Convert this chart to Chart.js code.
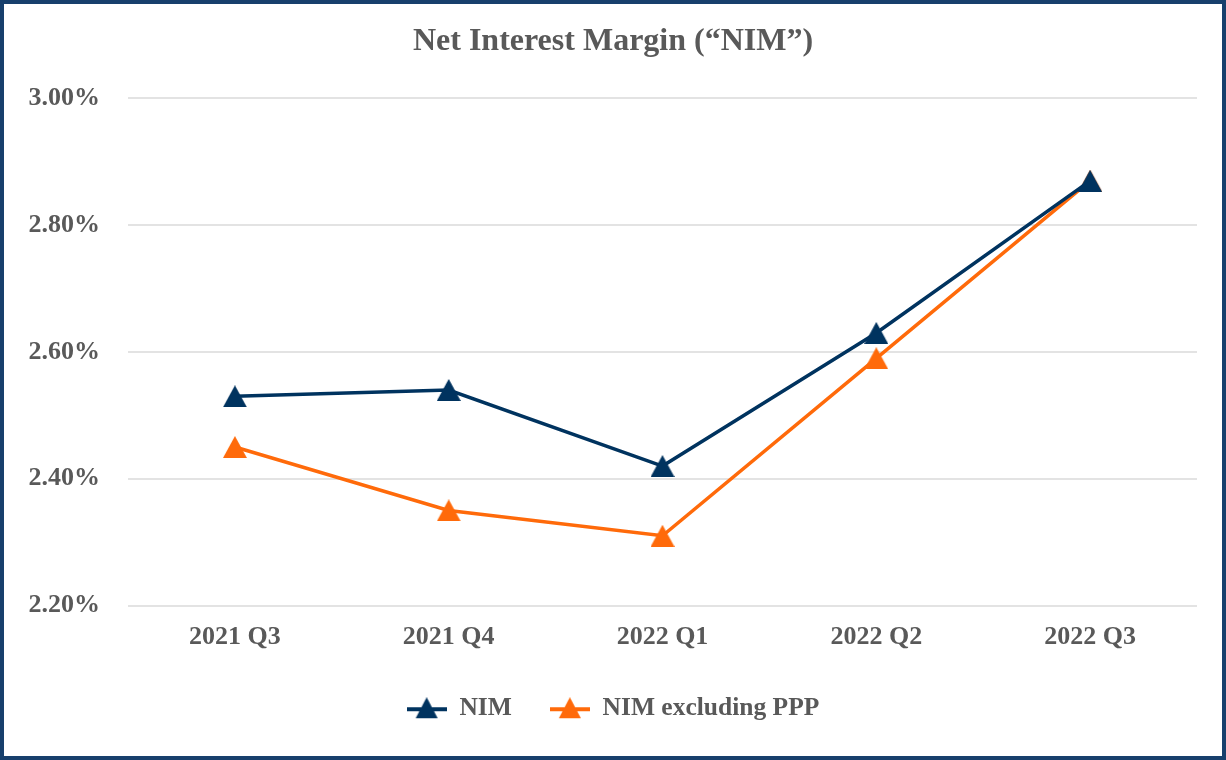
<!DOCTYPE html>
<html>
<head>
<meta charset="utf-8">
<script src="https://cdn.jsdelivr.net/npm/chart.js@4"></script>
<style>
  html, body { margin: 0; padding: 0; background: #fff; }
  #wrap { position: absolute; left: 0; top: 0; width: 1226px; height: 760px; box-sizing: border-box; border: 4px solid #173f6c; background: #fff; }
  #c { display: block; }
</style>
</head>
<body>
<div id="wrap"><canvas id="c" width="1218" height="752"></canvas></div>
<script>
const categories = ['2021 Q3', '2021 Q4', '2022 Q1', '2022 Q2', '2022 Q3'];
const nimValues = [2.53, 2.54, 2.42, 2.63, 2.87];
const nimExPppValues = [2.45, 2.35, 2.31, 2.59, 2.87];
const seriesNames = ['NIM', 'NIM excluding PPP'];
const yTickValues = [2.20, 2.40, 2.60, 2.80, 3.00];

const NAVY = '#00335f';
const ORANGE = '#ff6a0a';
const TEXT = '#595959';
const FONT = "'Liberation Serif', 'Times New Roman', serif";

function markerImage(color) {
  const c = document.createElement('canvas');
  c.width = 24; c.height = 22;
  const x = c.getContext('2d');
  x.fillStyle = color;
  x.beginPath();
  x.moveTo(12, 0); x.lineTo(24, 22); x.lineTo(0, 22); x.closePath();
  x.fill();
  return c;
}
function legendImage(color) {
  const c = document.createElement('canvas');
  c.width = 40; c.height = 22;
  const x = c.getContext('2d');
  x.strokeStyle = color; x.lineWidth = 4;
  x.beginPath(); x.moveTo(0, 12); x.lineTo(40, 12); x.stroke();
  x.fillStyle = color;
  x.beginPath();
  x.moveTo(20, 0); x.lineTo(31, 21); x.lineTo(9, 21); x.closePath();
  x.fill();
  return c;
}

const colors = [NAVY, ORANGE];
const legendImgs = colors.map(legendImage);

new Chart(document.getElementById('c'), {
  type: 'line',
  data: {
    labels: categories,
    datasets: [
      { label: seriesNames[0], data: nimValues, borderColor: NAVY, backgroundColor: NAVY, borderWidth: 3.5,
        pointStyle: markerImage(NAVY), pointRadius: 12, tension: 0 },
      { label: seriesNames[1], data: nimExPppValues, borderColor: ORANGE, backgroundColor: ORANGE, borderWidth: 3.5,
        pointStyle: markerImage(ORANGE), pointRadius: 12, tension: 0 }
    ]
  },
  options: {
    responsive: false,
    animation: false,
    devicePixelRatio: 1,
    layout: { padding: { left: 0, right: 0, top: 0, bottom: 25 } },
    plugins: {
      title: {
        display: true,
        text: 'Net Interest Margin (“NIM”)',
        color: TEXT,
        font: { family: FONT, size: 32, weight: 'bold' },
        padding: { top: 19, bottom: 37 }
      },
      legend: {
        position: 'bottom',
        labels: {
          usePointStyle: true,
          pointStyleWidth: 40,
          boxHeight: 22,
          padding: 38,
          color: TEXT,
          font: { family: FONT, size: 25.5, weight: 'bold' },
          generateLabels: (chart) => chart.data.datasets.map((ds, i) => ({
            text: ds.label, pointStyle: legendImgs[i], fillStyle: colors[i], strokeStyle: colors[i],
            lineWidth: 0, hidden: false, datasetIndex: i, fontColor: TEXT
          }))
        }
      },
      tooltip: { enabled: false }
    },
    scales: {
      x: {
        offset: true,
        grid: { display: false, drawTicks: false },
        border: { display: false },
        afterFit: (scale) => { scale.height = 52; },
        ticks: { color: TEXT, font: { family: FONT, size: 26, weight: 'bold' }, padding: 16 }
      },
      y: {
        min: 2.2, max: 3.0,
        afterBuildTicks: (scale) => { scale.ticks = yTickValues.map(v => ({ value: v })); },
        afterFit: (scale) => { scale.width = 124; },
        grid: { color: '#e3e3e3', lineWidth: 2, drawTicks: false },
        border: { display: false },
        ticks: { color: TEXT, font: { family: FONT, size: 26, weight: 'bold' }, padding: 28,
          callback: (v) => Number(v).toFixed(2) + '%' }
      },
      yRight: {
        position: 'right',
        display: true,
        min: 2.2, max: 3.0,
        grid: { display: false, drawTicks: false },
        border: { display: false },
        ticks: { display: false },
        afterFit: (scale) => { scale.width = 25; }
      }
    }
  }
});
</script>
</body>
</html>
